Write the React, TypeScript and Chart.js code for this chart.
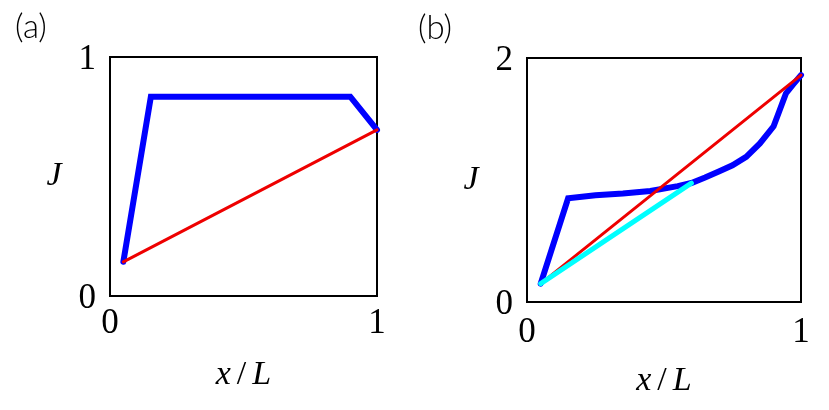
import React, { useEffect, useRef } from "react";
import { Chart, registerables } from "chart.js";

Chart.register(...registerables);

// Panel (a)
const aBlueX = [0.05, 0.153, 0.9, 1.0];
const aBlueY = [0.143, 0.834, 0.834, 0.695];
const aRedX = [0.05, 1.0];
const aRedY = [0.143, 0.695];
const aYTicks = [0, 1];

// Panel (b)
const bBlueX = [0.05, 0.15, 0.25, 0.35, 0.45, 0.55, 0.6, 0.65, 0.7, 0.75, 0.8, 0.85, 0.9, 0.92, 0.945, 0.97, 1.0];
const bBlueY = [0.15, 0.85, 0.875, 0.89, 0.91, 0.95, 0.975, 1.02, 1.07, 1.12, 1.19, 1.3, 1.44, 1.56, 1.71, 1.78, 1.86];
const bCyanX = [0.05, 0.6];
const bCyanY = [0.15, 0.975];
const bRedX = [0.05, 1.0];
const bRedY = [0.15, 1.86];
const bYTicks = [0, 2];

const xTicks = [0, 1];

const zip = (xs: number[], ys: number[]) => xs.map((x, i) => ({ x, y: ys[i] }));

const SERIF = "'Liberation Serif', 'DejaVu Serif', serif";
const TICK_FONT = { family: SERIF, size: 35 };

type PanelProps = {
  width: number;
  height: number;
  left: number;
  plotLeft: number;
  plotRight: number;
  plotTop: number;
  plotBottom: number;
  yMax: number;
  yTicks: number[];
  datasets: any[];
  letter: string;
  letterX: number;
  letterY: number;
  xPad: number;
  xTitleY: number;
};

function Panel(p: PanelProps) {
  const ref = useRef<HTMLCanvasElement>(null);
  useEffect(() => {
    const overlay = {
      id: "overlay",
      beforeDatasetsDraw(chart: any) {
        const { ctx, chartArea } = chart;
        ctx.save();
        ctx.strokeStyle = "#000";
        ctx.lineWidth = 2;
        ctx.strokeRect(chartArea.left, chartArea.top, chartArea.right - chartArea.left, chartArea.bottom - chartArea.top);
        ctx.restore();
      },
      afterDraw(chart: any) {
        const { ctx, chartArea } = chart;
        ctx.save();
        ctx.fillStyle = "#000";
        ctx.textBaseline = "middle";
        ctx.textAlign = "center";
        ctx.font = `italic 34px ${SERIF}`;
        ctx.fillText("J", chartArea.left - 56, (chartArea.top + chartArea.bottom) / 2);
        const cx = (chartArea.left + chartArea.right) / 2;
        const italic = `italic 34px ${SERIF}`;
        const upright = `34px ${SERIF}`;
        const parts: [string, string][] = [["x", italic], ["/", upright], ["L", italic]];
        const gaps = [0, 6, 6];
        let total = 0;
        parts.forEach(([t, f], i) => {
          ctx.font = f;
          total += ctx.measureText(t).width + gaps[i];
        });
        let xx = cx - total / 2;
        ctx.textAlign = "left";
        parts.forEach(([t, f], i) => {
          ctx.font = f;
          xx += gaps[i];
          ctx.fillText(t, xx, p.xTitleY);
          xx += ctx.measureText(t).width;
        });
        ctx.textAlign = "center";
        ctx.font = `300 33px Lato, 'Open Sans', sans-serif`;
        ctx.fillText(p.letter, p.letterX, p.letterY);
        ctx.restore();
      },
    };
    const chart = new Chart(ref.current!, {
      type: "line",
      data: { datasets: p.datasets },
      options: {
        animation: false,
        responsive: false,
        maintainAspectRatio: false,
        layout: { padding: { left: 0, top: p.plotTop, right: p.width - p.plotRight, bottom: 0 } },
        plugins: { legend: { display: false }, tooltip: { enabled: false } },
        elements: { point: { radius: 0 } },
        scales: {
          x: {
            type: "linear",
            min: 0,
            max: 1,
            afterFit: (s: any) => {
              s.height = p.height - p.plotBottom;
            },
            afterBuildTicks: (s: any) => {
              s.ticks = xTicks.map((v) => ({ value: v }));
            },
            grid: { display: false, drawTicks: false },
            border: { display: false },
            ticks: { color: "#000", font: TICK_FONT, padding: p.xPad, maxRotation: 0, autoSkip: false },
          },
          y: {
            type: "linear",
            min: 0,
            max: p.yMax,
            afterFit: (s: any) => {
              s.width = p.plotLeft;
            },
            afterBuildTicks: (s: any) => {
              s.ticks = p.yTicks.map((v) => ({ value: v }));
            },
            grid: { display: false, drawTicks: false },
            border: { display: false },
            ticks: { color: "#000", font: TICK_FONT, padding: 14, labelOffset: 3, autoSkip: false },
          },
        },
      },
      plugins: [overlay],
    });
    return () => chart.destroy();
  }, []);
  return (
    <div style={{ position: "absolute", left: p.left, top: 0, width: p.width, height: p.height }}>
      <canvas ref={ref} width={p.width} height={p.height} style={{ width: p.width, height: p.height }} />
    </div>
  );
}

const line = (data: any[], color: string, width: number) => ({
  data,
  borderColor: color,
  backgroundColor: color,
  borderWidth: width,
  fill: false,
  tension: 0,
  clip: false,
  borderCapStyle: "round",
});

export default function App() {
  const aDatasets = [
    line(zip(aRedX, aRedY), "#ee0000", 3),
    line(zip(aBlueX, aBlueY), "#0000ff", 6),
  ];
  const bDatasets = [
    line(zip(bCyanX, bCyanY), "#00ffff", 5),
    line(zip(bRedX, bRedY), "#ee0000", 3),
    line(zip(bBlueX, bBlueY), "#0000ff", 6),
  ];
  return (
    <div style={{ position: "absolute", left: 0, top: 0, width: 829, height: 410, background: "#fff" }}>
      <Panel
        width={410}
        height={410}
        left={0}
        plotLeft={110}
        plotRight={377}
        plotTop={57}
        plotBottom={296}
        yMax={1}
        yTicks={aYTicks}
        datasets={aDatasets}
        letter="(a)"
        letterX={31}
        letterY={27}
        xPad={7}
        xTitleY={375}
      />
      <Panel
        width={419}
        height={410}
        left={410}
        plotLeft={117}
        plotRight={391}
        plotTop={58}
        plotBottom={302}
        yMax={2}
        yTicks={bYTicks}
        datasets={bDatasets}
        letter="(b)"
        letterX={25}
        letterY={28}
        xPad={10}
        xTitleY={381}
      />
    </div>
  );
}
